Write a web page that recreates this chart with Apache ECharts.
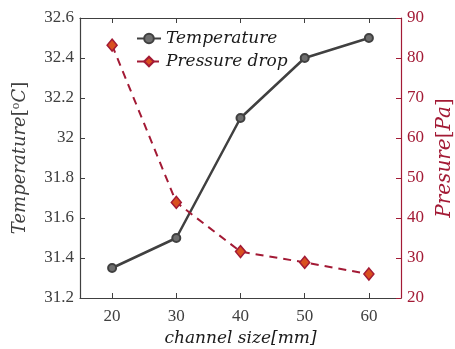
<!DOCTYPE html>
<html>
<head>
<meta charset="utf-8">
<script src="https://cdn.jsdelivr.net/npm/echarts@6/dist/echarts.min.js"></script>
<style>
  html, body { margin: 0; padding: 0; background: #fff; }
  #chart { width: 455px; height: 349px; }
</style>
</head>
<body>
<div id="chart"></div>
<script>
// channel size [mm]
const channelSize = [20, 30, 40, 50, 60]
// temperature [oC]
const temperature = [31.35, 31.5, 32.1, 32.4, 32.5]
// pressure drop [Pa]
const pressureDrop = [83.2, 43.9, 31.6, 28.9, 26.0]

const grayC = '#404040'
const redC = '#a31a35'
const serif = '"Liberation Serif", "DejaVu Serif", serif'
const mathFont = '"DejaVu Serif", serif'

const chart = echarts.init(document.getElementById('chart'))

chart.setOption({
  animation: false,
  backgroundColor: '#fff',
  grid: { left: 80, top: 18, right: 54, bottom: 51, outerBoundsMode: 'none', containLabel: false },
  legend: {
    left: 131,
    top: 25,
    orient: 'vertical',
    itemGap: 6,
    itemWidth: 24,
    itemHeight: 12,
    textStyle: { fontFamily: mathFont, fontStyle: 'italic', fontSize: 17, color: '#1a1a1a' },
    data: ['Temperature', 'Pressure drop']
  },
  xAxis: [{
    type: 'value',
    min: 15,
    max: 65,
    axisLine: { lineStyle: { color: grayC, width: 1.2 } },
    axisTick: { inside: true, length: 5, lineStyle: { color: grayC }, customValues: channelSize },
    axisLabel: {
      fontFamily: serif, fontSize: 17, color: grayC, margin: 10,
      customValues: channelSize
    },
    splitLine: { show: false },
    name: 'channel size[mm]',
    nameLocation: 'middle',
    nameGap: 31,
    nameTextStyle: { fontFamily: mathFont, fontStyle: 'italic', fontSize: 17, color: '#1a1a1a' }
  }, {
    type: 'value',
    position: 'top',
    min: 15,
    max: 65,
    axisLine: { show: true, lineStyle: { color: grayC, width: 1.2 } },
    axisTick: {
      show: true, inside: true, length: 5, lineStyle: { color: grayC },
      customValues: channelSize
    },
    axisLabel: { show: false },
    splitLine: { show: false }
  }],
  yAxis: [{
    type: 'value',
    min: 31.2,
    max: 32.6,
    interval: 0.2,
    axisLine: { show: true, lineStyle: { color: grayC, width: 1.2 } },
    axisTick: { show: true, inside: true, length: 5, lineStyle: { color: grayC } },
    axisLabel: {
      fontFamily: serif, fontSize: 17, color: grayC, margin: 6,
      formatter: v => String(parseFloat(v.toFixed(1)))
    },
    splitLine: { show: false },
    name: '{i|Temperature}[{s|o}{i|C}]',
    nameLocation: 'middle',
    nameRotate: 90,
    nameGap: 50,
    nameTextStyle: {
      fontFamily: mathFont, fontSize: 18, color: grayC,
      rich: {
        i: { fontFamily: mathFont, fontStyle: 'italic', fontSize: 18, color: grayC },
        s: { fontFamily: mathFont, fontSize: 11, color: grayC, verticalAlign: 'top', padding: [0, 0, 8, 0] }
      }
    }
  }, {
    type: 'value',
    position: 'right',
    min: 20,
    max: 90,
    interval: 10,
    axisLine: { show: true, lineStyle: { color: redC, width: 1.2 } },
    axisTick: { show: true, inside: true, length: 5, lineStyle: { color: redC } },
    axisLabel: { fontFamily: serif, fontSize: 17, color: redC, margin: 6 },
    splitLine: { show: false },
    name: '{i|Presure}[{i|Pa}]',
    nameLocation: 'middle',
    nameRotate: 90,
    nameGap: 33,
    nameTextStyle: {
      fontFamily: mathFont, fontSize: 20, color: redC,
      rich: {
        i: { fontFamily: mathFont, fontStyle: 'italic', fontSize: 20, color: redC }
      }
    }
  }],
  series: [{
    name: 'Temperature',
    type: 'line',
    xAxisIndex: 0,
    yAxisIndex: 0,
    data: channelSize.map((x, i) => [x, temperature[i]]),
    symbol: 'circle',
    symbolSize: 8,
    lineStyle: { color: grayC, width: 2.5 },
    itemStyle: { color: '#6e6e6e', borderColor: grayC, borderWidth: 2 }
  }, {
    name: 'Pressure drop',
    type: 'line',
    xAxisIndex: 0,
    yAxisIndex: 1,
    data: channelSize.map((x, i) => [x, pressureDrop[i]]),
    symbol: 'diamond',
    symbolSize: [10, 12],
    lineStyle: { color: redC, width: 2, type: [8, 6] },
    itemStyle: { color: '#d9501f', borderColor: redC, borderWidth: 1.5 }
  }]
})
</script>
</body>
</html>
